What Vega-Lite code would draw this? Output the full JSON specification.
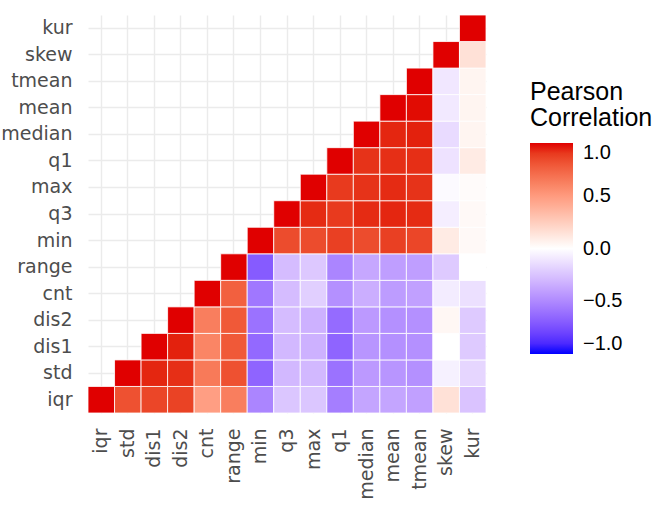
{
  "$schema": "https://vega.github.io/schema/vega-lite/v6.json",
  "autosize": {"type": "none"},
  "padding": {"left": 88, "top": 15, "right": 180, "bottom": 94},
  "width": 398,
  "height": 398,
  "background": "white",
  "config": {
    "view": {"stroke": null},
    "font": "Liberation Sans",
    "axis": {"domain": false, "ticks": false, "grid": true, "zindex": 0, "gridColor": "#ebebeb", "gridWidth": 1.4, "labelFont": "DejaVu Sans", "labelFontSize": 19, "labelColor": "#4d4d4d", "bandPosition": 0.5}
  },
  "data": {"values": [
    {"x":"iqr","y":"iqr","r":1},{"x":"std","y":"iqr","r":0.82},{"x":"dis1","y":"iqr","r":0.86},{"x":"dis2","y":"iqr","r":0.87},{"x":"cnt","y":"iqr","r":0.48},{"x":"range","y":"iqr","r":0.63},{"x":"min","y":"iqr","r":-0.52},{"x":"q3","y":"iqr","r":-0.24},{"x":"max","y":"iqr","r":-0.24},{"x":"q1","y":"iqr","r":-0.55},{"x":"median","y":"iqr","r":-0.38},{"x":"mean","y":"iqr","r":-0.38},{"x":"tmean","y":"iqr","r":-0.4},{"x":"skew","y":"iqr","r":0.15},{"x":"kur","y":"iqr","r":-0.25},
    {"x":"std","y":"std","r":1},{"x":"dis1","y":"std","r":0.95},{"x":"dis2","y":"std","r":0.93},{"x":"cnt","y":"std","r":0.65},{"x":"range","y":"std","r":0.82},{"x":"min","y":"std","r":-0.66},{"x":"q3","y":"std","r":-0.3},{"x":"max","y":"std","r":-0.3},{"x":"q1","y":"std","r":-0.6},{"x":"median","y":"std","r":-0.43},{"x":"mean","y":"std","r":-0.45},{"x":"tmean","y":"std","r":-0.47},{"x":"skew","y":"std","r":-0.06},{"x":"kur","y":"std","r":-0.17},
    {"x":"dis1","y":"dis1","r":1},{"x":"dis2","y":"dis1","r":0.96},{"x":"cnt","y":"dis1","r":0.6},{"x":"range","y":"dis1","r":0.79},{"x":"min","y":"dis1","r":-0.64},{"x":"q3","y":"dis1","r":-0.3},{"x":"max","y":"dis1","r":-0.33},{"x":"q1","y":"dis1","r":-0.66},{"x":"median","y":"dis1","r":-0.45},{"x":"mean","y":"dis1","r":-0.47},{"x":"tmean","y":"dis1","r":-0.47},{"x":"skew","y":"dis1","r":0.0},{"x":"kur","y":"dis1","r":-0.22},
    {"x":"dis2","y":"dis2","r":1},{"x":"cnt","y":"dis2","r":0.63},{"x":"range","y":"dis2","r":0.79},{"x":"min","y":"dis2","r":-0.6},{"x":"q3","y":"dis2","r":-0.28},{"x":"max","y":"dis2","r":-0.33},{"x":"q1","y":"dis2","r":-0.63},{"x":"median","y":"dis2","r":-0.43},{"x":"mean","y":"dis2","r":-0.47},{"x":"tmean","y":"dis2","r":-0.47},{"x":"skew","y":"dis2","r":0.04},{"x":"kur","y":"dis2","r":-0.22},
    {"x":"cnt","y":"cnt","r":1},{"x":"range","y":"cnt","r":0.76},{"x":"min","y":"cnt","r":-0.58},{"x":"q3","y":"cnt","r":-0.28},{"x":"max","y":"cnt","r":-0.2},{"x":"q1","y":"cnt","r":-0.47},{"x":"median","y":"cnt","r":-0.34},{"x":"mean","y":"cnt","r":-0.42},{"x":"tmean","y":"cnt","r":-0.4},{"x":"skew","y":"cnt","r":-0.08},{"x":"kur","y":"cnt","r":-0.13},
    {"x":"range","y":"range","r":1},{"x":"min","y":"range","r":-0.7},{"x":"q3","y":"range","r":-0.28},{"x":"max","y":"range","r":-0.23},{"x":"q1","y":"range","r":-0.52},{"x":"median","y":"range","r":-0.37},{"x":"mean","y":"range","r":-0.41},{"x":"tmean","y":"range","r":-0.41},{"x":"skew","y":"range","r":-0.22},{"x":"kur","y":"range","r":0.0},
    {"x":"min","y":"min","r":1},{"x":"q3","y":"min","r":0.84},{"x":"max","y":"min","r":0.84},{"x":"q1","y":"min","r":0.88},{"x":"median","y":"min","r":0.84},{"x":"mean","y":"min","r":0.88},{"x":"tmean","y":"min","r":0.86},{"x":"skew","y":"min","r":0.1},{"x":"kur","y":"min","r":0.03},
    {"x":"q3","y":"q3","r":1},{"x":"max","y":"q3","r":0.94},{"x":"q1","y":"q3","r":0.9},{"x":"median","y":"q3","r":0.94},{"x":"mean","y":"q3","r":0.95},{"x":"tmean","y":"q3","r":0.94},{"x":"skew","y":"q3","r":-0.07},{"x":"kur","y":"q3","r":0.03},
    {"x":"max","y":"max","r":1},{"x":"q1","y":"max","r":0.9},{"x":"median","y":"max","r":0.92},{"x":"mean","y":"max","r":0.94},{"x":"tmean","y":"max","r":0.92},{"x":"skew","y":"max","r":-0.02},{"x":"kur","y":"max","r":0.02},
    {"x":"q1","y":"q1","r":1},{"x":"median","y":"q1","r":0.92},{"x":"mean","y":"q1","r":0.93},{"x":"tmean","y":"q1","r":0.93},{"x":"skew","y":"q1","r":-0.12},{"x":"kur","y":"q1","r":0.1},
    {"x":"median","y":"median","r":1},{"x":"mean","y":"median","r":0.95},{"x":"tmean","y":"median","r":0.96},{"x":"skew","y":"median","r":-0.15},{"x":"kur","y":"median","r":0.05},
    {"x":"mean","y":"mean","r":1},{"x":"tmean","y":"mean","r":0.99},{"x":"skew","y":"mean","r":-0.09},{"x":"kur","y":"mean","r":0.05},
    {"x":"tmean","y":"tmean","r":1},{"x":"skew","y":"tmean","r":-0.1},{"x":"kur","y":"tmean","r":0.05},
    {"x":"skew","y":"skew","r":1},{"x":"kur","y":"skew","r":0.15},
    {"x":"kur","y":"kur","r":1}
  ]},
  "mark": {"type": "rect", "stroke": "white", "strokeWidth": 0.8},
  "encoding": {
    "x": {"field": "x", "type": "nominal", "sort": ["iqr","std","dis1","dis2","cnt","range","min","q3","max","q1","median","mean","tmean","skew","kur"], "scale": {"paddingInner": 0, "paddingOuter": 0}, "axis": {"title": null, "labelAngle": -90, "labelPadding": 15}},
    "y": {"field": "y", "type": "nominal", "sort": ["kur","skew","tmean","mean","median","q1","max","q3","min","range","cnt","dis2","dis1","std","iqr"], "scale": {"paddingInner": 0, "paddingOuter": 0}, "axis": {"title": null, "labelPadding": 16}},
    "color": {"field": "r", "type": "quantitative",
      "scale": {"domain": [-1, 0, 1], "range": ["#0000ff", "#ffffff", "#e00000"], "interpolate": "lab"},
      "legend": {"title": ["Pearson", "Correlation"], "orient": "none", "legendX": 442, "legendY": 65, "titleFontSize": 25, "titleFontWeight": "normal", "titleColor": "black", "titleLineHeight": 26, "titlePadding": 12, "gradientLength": 211, "gradientThickness": 43, "values": [-1, -0.5, 0, 0.5, 1], "format": ".1f", "labelFontSize": 20, "labelColor": "black", "labelOffset": 10, "labelFont": "Liberation Sans", "titleFont": "Liberation Sans", "gradientStrokeWidth": 0}
    }
  }
}
